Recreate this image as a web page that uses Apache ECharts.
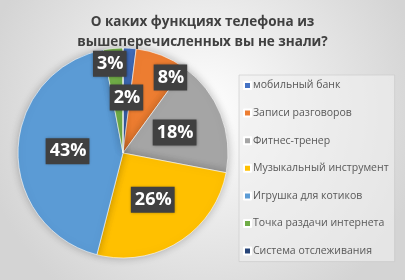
<!DOCTYPE html>
<html>
<head>
<meta charset="utf-8">
<script src="https://cdn.jsdelivr.net/npm/echarts@6/dist/echarts.min.js"></script>
<style>
  html, body { margin: 0; padding: 0; }
  #chart { width: 405px; height: 280px; }
</style>
</head>
<body>
<div id="chart"></div>
<script>
// доли ответов, %
var categories = ['мобильный банк', 'Записи разговоров', 'Фитнес-тренер', 'Музыкальный инструмент',
                  'Игрушка для котиков', 'Точка раздачи интернета', 'Система отслеживания'];
var shares = [2, 8, 18, 26, 43, 3, 0];
var colors = ['#4472C4', '#ED7D31', '#A5A5A5', '#FFC000', '#5B9BD5', '#70AD47', '#264478'];

// сдвиг подписей маленьких секторов (как в Excel)
var labelShift = { 1: [27, -24], 5: [-8, -34] };

var seriesData = categories.map(function (name, i) {
    var item = { name: name, value: shares[i] };
    if (shares[i] === 0) item.label = { show: false };
    if (labelShift[i]) item.label = { offset: labelShift[i] };
    return item;
});

var option = {
    color: colors,
    backgroundColor: {
        type: 'radial', x: 0.5, y: 0.4, r: 0.8,
        colorStops: [
            { offset: 0, color: '#ffffff' },
            { offset: 1, color: '#d4d4d4' }
        ]
    },
    title: {
        text: 'О каких функциях телефона из\nвышеперечисленных вы не знали?',
        left: 'center',
        top: 7,
        textStyle: {
            fontFamily: 'Open Sans',
            fontSize: 13.5,
            fontWeight: 'bold',
            color: '#404040',
            lineHeight: 20
        }
    },
    legend: {
        orient: 'vertical',
        left: 239,
        top: 75,
        itemWidth: 7,
        itemHeight: 7,
        itemGap: 16.6,
        icon: 'rect',
        padding: [5, 6, 5, 4],
        backgroundColor: 'rgba(240,240,240,0.6)',
        borderColor: 'rgba(200,200,200,0.6)',
        borderWidth: 1,
        textStyle: {
            fontFamily: 'Open Sans',
            fontSize: 10.5,
            color: '#595959',
            padding: [0, 0, 0, -3]
        },
        data: categories
    },
    series: [
        {
            type: 'pie',
            center: [123, 153],
            radius: 105,
            startAngle: 90,
            clockwise: true,
            avoidLabelOverlap: false,
            data: seriesData,
            itemStyle: {
                borderColor: '#ffffff',
                borderWidth: 0.6,
                shadowBlur: 8,
                shadowColor: 'rgba(0,0,0,0.25)'
            },
            label: {
                show: true,
                position: 'inside',
                formatter: '{c}%',
                color: '#ffffff',
                fontFamily: 'Open Sans',
                fontSize: 18,
                fontWeight: 'bold',
                backgroundColor: '#404040',
                padding: [5, 3, 3, 4],
                shadowBlur: 3,
                shadowColor: 'rgba(0,0,0,0.4)'
            },
            labelLine: { show: false },
            emphasis: { disabled: true }
        }
    ]
};

var myChart = echarts.init(document.getElementById('chart'));
myChart.setOption(option);
</script>
</body>
</html>
